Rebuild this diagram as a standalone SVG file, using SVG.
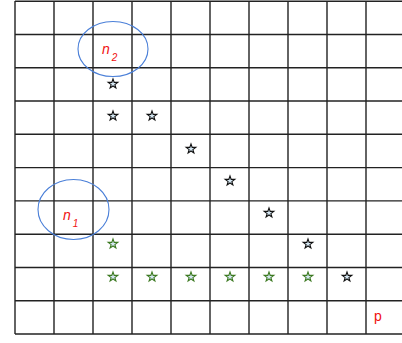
<svg xmlns="http://www.w3.org/2000/svg" width="402" height="343" viewBox="0 0 402 343">
<defs>
<style>
.grid line{stroke:#222;stroke-width:1.4}
.sb{fill:#d4e6f2;stroke:#111;stroke-width:1.1}
.sg{fill:#d4e6f2;stroke:#3d7a22;stroke-width:1.1}
.ell{fill:none;stroke:#4a7fd8;stroke-width:1.1}
.lab{font-family:"Liberation Sans",Arial,sans-serif;fill:#f01010}
</style>
<polygon id="star" points="0,-5 1.2,-1.6 4.8,-1.6 1.9,0.6 2.9,4 0,2 -2.9,4 -1.9,0.6 -4.8,-1.6 -1.2,-1.6"/>
</defs>
<rect width="402" height="343" fill="#fff"/>
<g id="grid" class="grid">
<line x1="15" y1="1" x2="15" y2="334"/>
<line x1="54" y1="1" x2="54" y2="334"/>
<line x1="93" y1="1" x2="93" y2="334"/>
<line x1="132" y1="1" x2="132" y2="334"/>
<line x1="171" y1="1" x2="171" y2="334"/>
<line x1="210" y1="1" x2="210" y2="334"/>
<line x1="249" y1="1" x2="249" y2="334"/>
<line x1="288" y1="1" x2="288" y2="334"/>
<line x1="327" y1="1" x2="327" y2="334"/>
<line x1="366" y1="1" x2="366" y2="334"/>
<line x1="15" y1="1.3" x2="402" y2="1.3"/>
<line x1="15" y1="34.5" x2="402" y2="34.5"/>
<line x1="15" y1="67.8" x2="402" y2="67.8"/>
<line x1="15" y1="101" x2="402" y2="101"/>
<line x1="15" y1="134.3" x2="402" y2="134.3"/>
<line x1="15" y1="167.6" x2="402" y2="167.6"/>
<line x1="15" y1="200.9" x2="402" y2="200.9"/>
<line x1="15" y1="234.2" x2="402" y2="234.2"/>
<line x1="15" y1="267.5" x2="402" y2="267.5"/>
<line x1="15" y1="300.8" x2="402" y2="300.8"/>
<line x1="15" y1="334" x2="402" y2="334"/>
</g>
<g id="stars-black" class="sb">
<use href="#star" x="113" y="84"/>
<use href="#star" x="113" y="116"/>
<use href="#star" x="152" y="116"/>
<use href="#star" x="191" y="149"/>
<use href="#star" x="230" y="181"/>
<use href="#star" x="269" y="213"/>
<use href="#star" x="308" y="244"/>
<use href="#star" x="347" y="277"/>
</g>
<g id="stars-green" class="sg">
<use href="#star" x="113" y="244"/>
<use href="#star" x="113" y="277"/>
<use href="#star" x="152" y="277"/>
<use href="#star" x="191" y="277"/>
<use href="#star" x="230" y="277"/>
<use href="#star" x="269" y="277"/>
<use href="#star" x="308" y="277"/>
</g>
<g id="n2">
<ellipse class="ell" cx="113" cy="49" rx="35" ry="27.5"/>
<text class="lab" x="102" y="53.5" font-size="14" font-style="italic">n<tspan font-size="10" dx="2" dy="7">2</tspan></text>
</g>
<g id="n1">
<ellipse class="ell" cx="73.5" cy="209.5" rx="35.5" ry="30"/>
<text class="lab" x="63" y="219.5" font-size="14" font-style="italic">n<tspan font-size="10" dx="2" dy="7">1</tspan></text>
</g>
<g id="p">
<text class="lab" x="374" y="321" font-size="14">p</text>
</g>
</svg>
